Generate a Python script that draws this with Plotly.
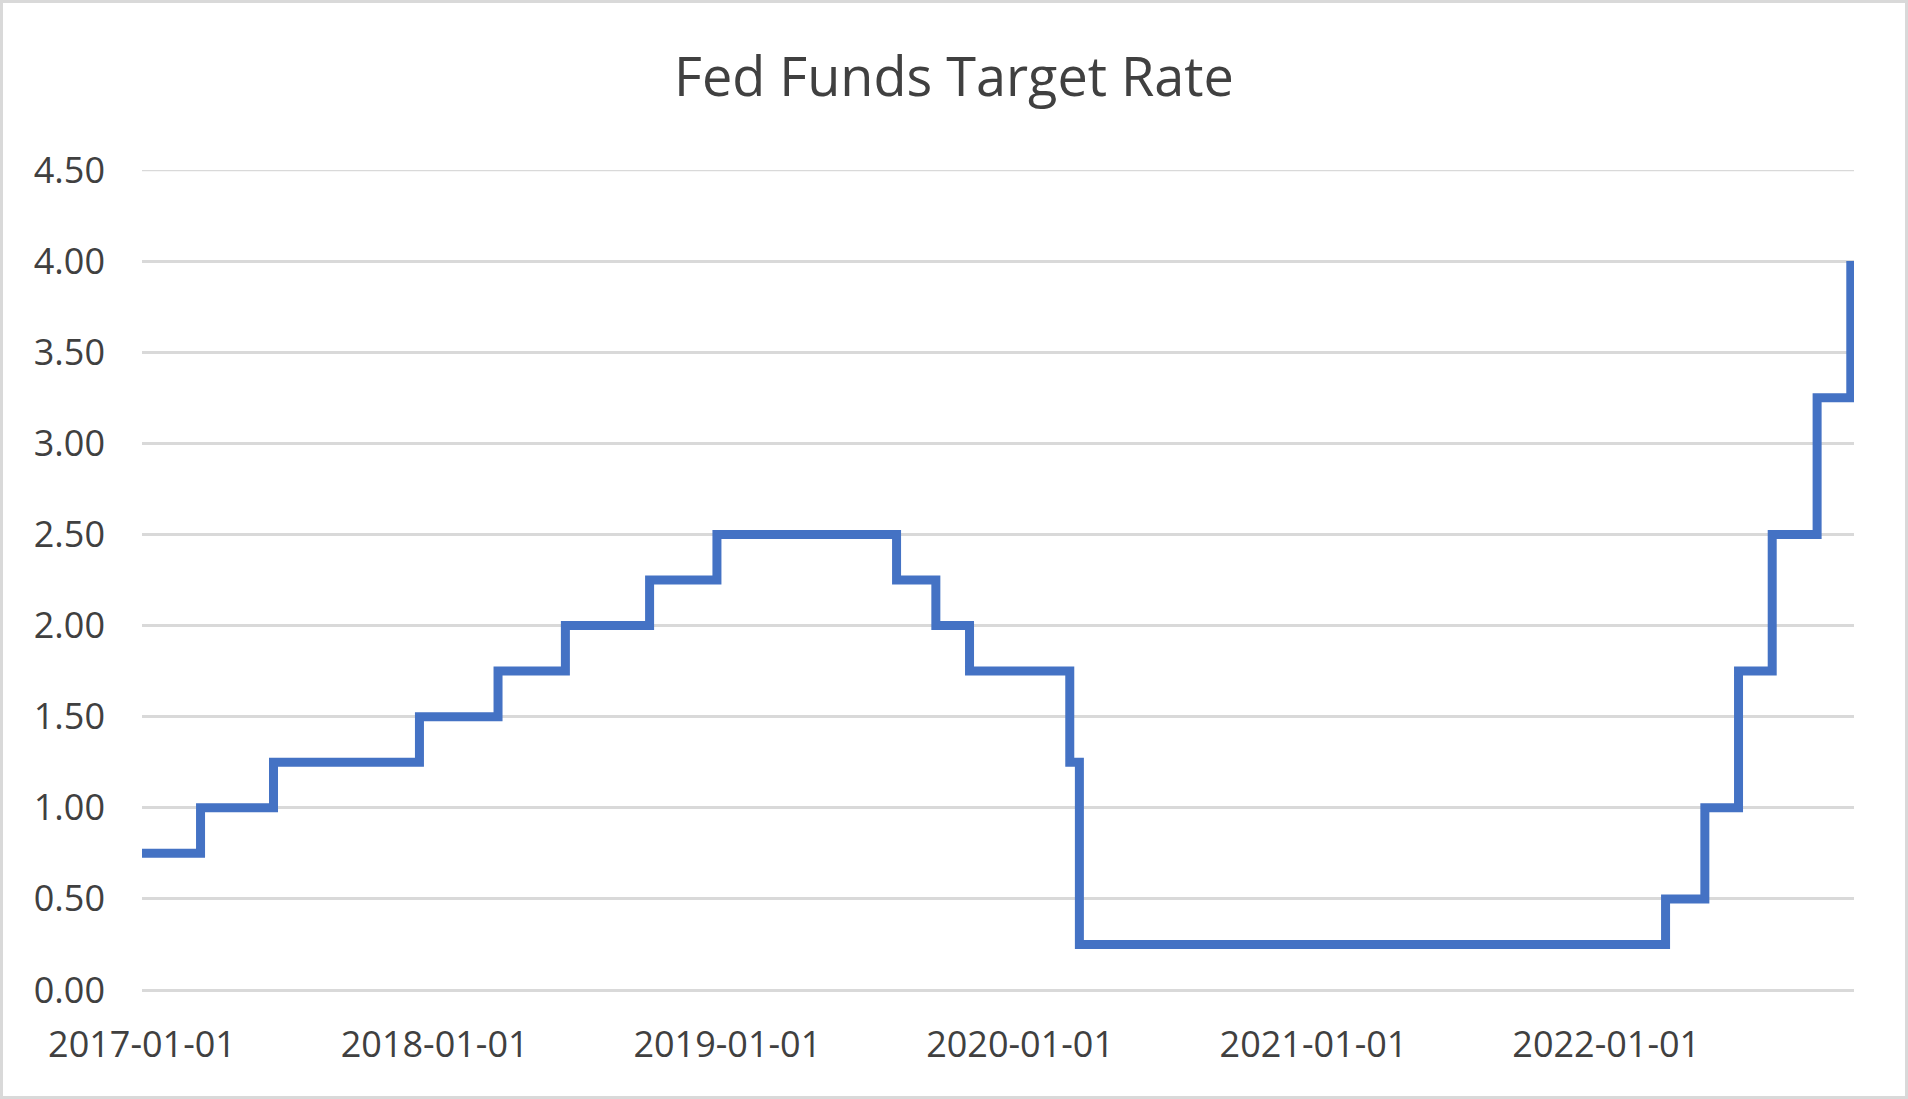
import plotly.graph_objects as go

# Fed funds target rate (upper bound): date of each change and the new rate
change_dates = ["2017-01-01", "2017-03-15", "2017-06-14", "2017-12-13", "2018-03-21",
                "2018-06-13", "2018-09-26", "2018-12-19", "2019-07-31", "2019-09-18",
                "2019-10-30", "2020-03-03", "2020-03-15", "2022-03-16", "2022-05-04",
                "2022-06-15", "2022-07-27", "2022-09-21", "2022-11-02"]
rates = [0.75, 1.00, 1.25, 1.50, 1.75, 2.00, 2.25, 2.50, 2.25, 2.00,
         1.75, 1.25, 0.25, 0.50, 1.00, 1.75, 2.50, 3.25, 4.00]

tick_dates = ["2017-01-01", "2018-01-01", "2019-01-01", "2020-01-01", "2021-01-01", "2022-01-01"]
y_ticks = [0.0, 0.5, 1.0, 1.5, 2.0, 2.5, 3.0, 3.5, 4.0, 4.5]

W, H = 1908, 1099
ML, MR, MT, MB = 142, 54, 170, 109
GRID = "#d9d9d9"
TXT = "#404040"
FONT = "Open Sans"

fig = go.Figure()
fig.add_trace(go.Scatter(
    x=change_dates, y=rates, mode="lines", line_shape="hv",
    line=dict(color="#4472C4", width=9), hoverinfo="x+y", showlegend=False,
))

fig.update_layout(
    width=W, height=H,
    margin=dict(l=ML, r=MR, t=MT, b=MB, pad=0),
    paper_bgcolor="white", plot_bgcolor="white",
    title=dict(text="Fed Funds Target Rate", x=0.5, xanchor="center",
               y=1 - 77 / H, yanchor="middle", yref="container",
               font=dict(family=FONT, size=54, color=TXT)),
    font=dict(family=FONT, color=TXT),
    xaxis=dict(type="date", range=["2017-01-01", "2022-11-06"],
               tickvals=tick_dates, ticktext=tick_dates,
               showgrid=False, zeroline=False, showline=False,
               ticks="", ticklabelstandoff=30,
               tickfont=dict(family=FONT, size=36, color=TXT)),
    yaxis=dict(range=[0, 4.5], tickvals=y_ticks, tickformat=".2f",
               showgrid=True, gridcolor=GRID, gridwidth=2.5,
               zeroline=True, zerolinecolor=GRID, zerolinewidth=2.5,
               showline=False, ticks="", ticklabelstandoff=36,
               tickfont=dict(family=FONT, size=36, color=TXT)),
)

# top gridline (at the upper edge of the value axis)
fig.add_shape(type="line", xref="paper", yref="y", x0=0, x1=1,
              y0=y_ticks[-1], y1=y_ticks[-1], line=dict(color=GRID, width=2.5), layer="below")

# chart-area border (paper coordinates expressed relative to the plot area)
pw = W - ML - MR
ph = H - MT - MB
fig.add_shape(type="rect", xref="paper", yref="paper",
              x0=-(ML - 1.5) / pw, x1=1 + (MR - 1.5) / pw,
              y0=-(MB - 1.5) / ph, y1=1 + (MT - 1.5) / ph,
              line=dict(color=GRID, width=3), fillcolor="rgba(0,0,0,0)", layer="below")

fig.write_html("out.html", config={"displayModeBar": False},
               post_script="document.body.style.margin='0px';document.body.style.overflow='hidden';")
